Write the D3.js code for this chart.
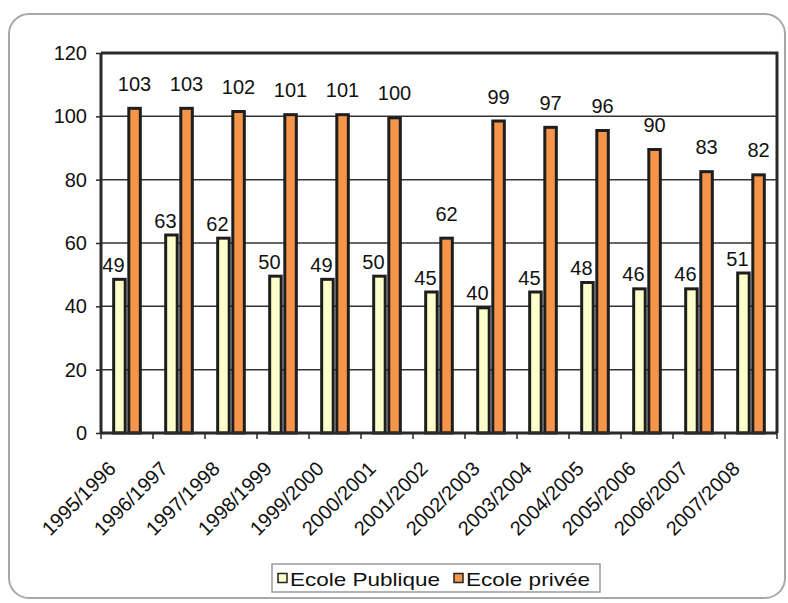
<!DOCTYPE html>
<html>
<head>
<meta charset="utf-8">
<script src="https://cdn.jsdelivr.net/npm/d3@7"></script>
<style>
  html, body { margin: 0; padding: 0; background: #fff; }
  svg { display: block; font-family: "Liberation Sans", Arial, sans-serif; }
</style>
</head>
<body>
<svg id="chart" width="788" height="603"></svg>
<script>
// School years and pupil counts per school type
const years = ["1995/1996", "1996/1997", "1997/1998", "1998/1999", "1999/2000", "2000/2001",
               "2001/2002", "2002/2003", "2003/2004", "2004/2005", "2005/2006", "2006/2007", "2007/2008"];
const ecolePublique = [49, 63, 62, 50, 49, 50, 45, 40, 45, 48, 46, 46, 51];
const ecolePrivee   = [103, 103, 102, 101, 101, 100, 62, 99, 97, 96, 90, 83, 82];
const seriesNames = ["Ecole Publique", "Ecole privée"];
const yTicks = [0, 20, 40, 60, 80, 100, 120];

const colors = { "Ecole Publique": "#FFFFCC", "Ecole privée": "#F7964A" };
const seriesValues = { "Ecole Publique": ecolePublique, "Ecole privée": ecolePrivee };

const svg = d3.select("#chart");

// Outer rounded frame
svg.append("rect")
  .attr("x", 9).attr("y", 14).attr("width", 776).attr("height", 584)
  .attr("rx", 20).attr("ry", 20)
  .attr("fill", "#fff").attr("stroke", "#a8a8a8").attr("stroke-width", 2);

const plot = { left: 101, right: 777, top: 53, bottom: 433 };

const x = d3.scaleBand().domain(years).range([plot.left, plot.right]).padding(0);
const bw = x.bandwidth();
const x1 = d3.scaleBand().domain(seriesNames)
  .range([bw * 0.215, bw * 0.785]).paddingInner(0.04);
const y = d3.scaleLinear().domain([0, 120]).range([plot.bottom, plot.top]);

// Horizontal gridlines
svg.append("g")
  .selectAll("line")
  .data(yTicks.filter(t => t > 0 && t < 120))
  .join("line")
  .attr("x1", plot.left).attr("x2", plot.right)
  .attr("y1", d => y(d)).attr("y2", d => y(d))
  .attr("stroke", "#333").attr("stroke-width", 1.5);

// Plot frame (top and right edges)
svg.append("path")
  .attr("d", `M${plot.left},${y(120)}H${plot.right}V${plot.bottom}`)
  .attr("fill", "none").attr("stroke", "#2a2a2a").attr("stroke-width", 3);

// Bars
const rows = years.map((yr, i) => ({ year: yr, i }));
const groups = svg.append("g").selectAll("g")
  .data(rows).join("g")
  .attr("transform", d => `translate(${x(d.year)},0)`);

const sw = 3;
groups.selectAll("rect")
  .data(d => seriesNames.map(s => ({ s, v: seriesValues[s][d.i] })))
  .join("rect")
  .attr("x", d => x1(d.s) + sw / 2)
  .attr("width", x1.bandwidth() - sw)
  .attr("y", d => y(d.v) + sw / 2)
  .attr("height", d => y(0) - y(d.v) - sw / 2)
  .attr("fill", d => colors[d.s])
  .attr("stroke", "#1e1e1e").attr("stroke-width", sw);

// Value labels
groups.selectAll("text.val")
  .data(d => seriesNames.map(s => ({ s, v: seriesValues[s][d.i] })))
  .join("text")
  .attr("class", "val")
  .attr("x", d => x1(d.s) + x1.bandwidth() / 2 + (d.s === "Ecole Publique" ? -6 : 0))
  .attr("y", d => y(d.v) - (d.s === "Ecole Publique" ? 6 : 16))
  .attr("text-anchor", "middle")
  .attr("font-size", 20).attr("fill", "#111")
  .text(d => d.v);

// Y axis
const yAxis = svg.append("g")
  .attr("transform", `translate(${plot.left},0)`)
  .call(d3.axisLeft(y).tickValues(yTicks).tickSize(5).tickPadding(9).tickFormat(d3.format("d")));
yAxis.select(".domain").attr("stroke", "#2a2a2a").attr("stroke-width", 3)
  .attr("d", `M0,${plot.top}V${plot.bottom}`);
yAxis.selectAll(".tick line").attr("stroke", "#2a2a2a").attr("stroke-width", 1.5);
yAxis.selectAll(".tick text").attr("font-size", 20).attr("fill", "#111")
  .attr("font-family", "'Liberation Sans', Arial, sans-serif");

// X axis
const xAxis = svg.append("g")
  .attr("transform", `translate(0,${plot.bottom})`)
  .call(d3.axisBottom(x).tickSize(0).tickPadding(0));
xAxis.select(".domain").attr("stroke", "#2a2a2a").attr("stroke-width", 3)
  .attr("d", `M${plot.left},0H${plot.right}`);
xAxis.selectAll(".tick text")
  .attr("font-size", 20).attr("fill", "#111")
  .attr("font-family", "'Liberation Sans', Arial, sans-serif")
  .attr("text-anchor", "end")
  .attr("dy", 0)
  .attr("transform", "translate(-10,37) rotate(-45)");

// Tick marks at category boundaries
const edges = years.map(d => x(d)).concat([x.range()[1]]);
xAxis.append("g").selectAll("line")
  .data(edges).join("line")
  .attr("x1", d => d).attr("x2", d => d)
  .attr("y1", 0).attr("y2", 6)
  .attr("stroke", "#2a2a2a").attr("stroke-width", 1.5);

// Legend
const legend = svg.append("g").attr("transform", "translate(272,564)");
legend.append("rect")
  .attr("width", 328).attr("height", 28)
  .attr("fill", "#fff").attr("stroke", "#9a9a9a").attr("stroke-width", 1.5);
const items = [
  { name: seriesNames[0], mx: 6, tx: 18, len: 150 },
  { name: seriesNames[1], mx: 182, tx: 194, len: 124 }
];
const li = legend.selectAll("g.item").data(items).join("g").attr("class", "item");
li.append("rect")
  .attr("x", d => d.mx).attr("y", 9.5).attr("width", 9).attr("height", 9)
  .attr("fill", d => colors[d.name]).attr("stroke", "#222").attr("stroke-width", 1.5);
li.append("text")
  .attr("x", d => d.tx).attr("y", 21.5)
  .attr("font-size", 19).attr("fill", "#111")
  .attr("textLength", d => d.len).attr("lengthAdjust", "spacingAndGlyphs")
  .text(d => d.name);
</script>
</body>
</html>
